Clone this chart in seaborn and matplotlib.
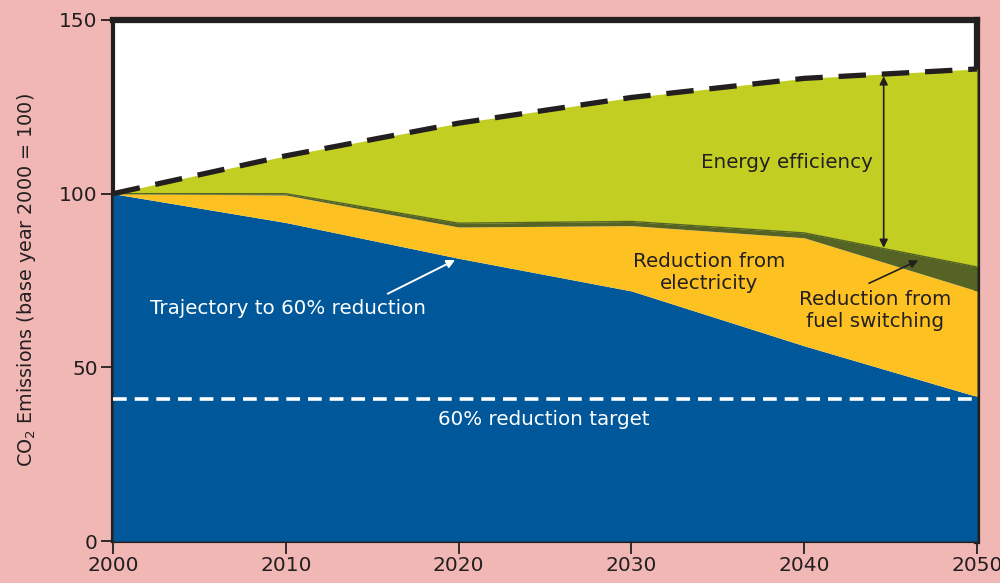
import matplotlib
matplotlib.use("Agg")
import matplotlib.pyplot as plt
import seaborn as sns
import numpy as np
import pandas as pd

years = [2000, 2010, 2020, 2030, 2040, 2050]
baseline = [100, 110.9, 120.3, 127.7, 133.2, 135.9]
trajectory = [100, 91.7, 81.4, 72.0, 56.2, 41.6]
electricity_top = [100, 99.6, 90.4, 90.8, 87.3, 72.0]
fuel_top = [100, 100, 91.5, 92.0, 88.7, 78.9]
target = 41
yticks = [0, 50, 100, 150]
xticks = [2000, 2010, 2020, 2030, 2040, 2050]

PINK = "#F1B7B4"
BLUE = "#00579A"
YELLOW = "#FDC221"
GREEN = "#C2CF22"
DKGREEN = "#556325"
INK = "#231F20"

sns.set_theme(style="white")
plt.rcParams['font.family'] = ['DejaVu Sans']

fig = plt.figure(figsize=(10, 5.83), dpi=100, facecolor=PINK)
ax = fig.add_axes([0.113, 0.072, 0.864, 0.8937])
ax.set_facecolor("white")

df = pd.DataFrame({"year": years, "baseline": baseline})

ax.fill_between(years, 0, trajectory, color=BLUE, lw=0, zorder=1)
ax.fill_between(years, trajectory, electricity_top, color=YELLOW, lw=0, zorder=1)
ax.fill_between(years, electricity_top, fuel_top, color=DKGREEN, lw=0, zorder=1)
ax.fill_between(years, fuel_top, baseline, color=GREEN, lw=0, zorder=1)
ax.plot(years, fuel_top, color=DKGREEN, lw=1.0, zorder=1.1)

sns.lineplot(data=df, x="year", y="baseline", ax=ax, color=INK, lw=3.8,
             dashes=False, zorder=3)
ax.lines[-1].set_dashes([5.2, 3])
ax.lines[-1].set_clip_on(False)

tdf = pd.DataFrame({"year": [years[0], years[-1]], "t": [target, target]})
sns.lineplot(data=tdf, x="year", y="t", ax=ax, color="white", lw=2.6, zorder=3)
ax.lines[-1].set_dashes([3.8, 2.2])

ax.set_xlim(2000, 2050)
ax.set_ylim(0, 150)
ax.set_xticks(xticks)
ax.set_yticks(yticks)
ax.tick_params(axis="both", which="both", direction="out", length=9, width=1.3,
               color=INK, labelsize=14.5, labelcolor=INK, left=True, bottom=True, pad=2)
ax.set_xlabel("")
ax.set_ylabel("CO$_2$ Emissions (base year 2000 = 100)", fontsize=13.8, color=INK, labelpad=15)

for s in ["top", "right"]:
    ax.spines[s].set_linewidth(4.5)
    ax.spines[s].set_color(INK)
    ax.spines[s].set_zorder(0.5)
for s in ["left", "bottom"]:
    ax.spines[s].set_linewidth(3)
    ax.spines[s].set_color(INK)
    ax.spines[s].set_zorder(0.5)

# annotations
ax.annotate("", xy=(2044.6, 84.4), xytext=(2044.6, 133.8),
            arrowprops=dict(arrowstyle="<|-|>", color=INK, lw=1.2,
                            mutation_scale=12, shrinkA=0, shrinkB=0), zorder=4)
ax.annotate("", xy=(2046.6, 80.8), xytext=(2043.75, 74.2),
            arrowprops=dict(arrowstyle="-|>", color=INK, lw=1.2,
                            mutation_scale=12, shrinkA=0, shrinkB=0), zorder=4)
ax.annotate("", xy=(2019.8, 80.9), xytext=(2015.9, 71.2),
            arrowprops=dict(arrowstyle="-|>", color="white", lw=1.4,
                            mutation_scale=12, shrinkA=0, shrinkB=0), zorder=4)

FS = 14.3
ax.text(2039.0, 109, "Energy efficiency", ha="center", va="center", fontsize=FS, color=INK, zorder=5)
ax.text(2034.5, 77.3, "Reduction from\nelectricity", ha="center", va="center", fontsize=FS,
        color=INK, zorder=5)
ax.text(2044.1, 66.3, "Reduction from\nfuel switching", ha="center", va="center", fontsize=FS,
        color=INK, zorder=5)
ax.text(2010.1, 66.8, "Trajectory to 60% reduction", ha="center", va="center", fontsize=FS,
        color="white", zorder=5)
ax.text(2024.9, 35, "60% reduction target", ha="center", va="center", fontsize=FS,
        color="white", zorder=5)

fig.savefig("out.png", dpi=100, facecolor=PINK)
